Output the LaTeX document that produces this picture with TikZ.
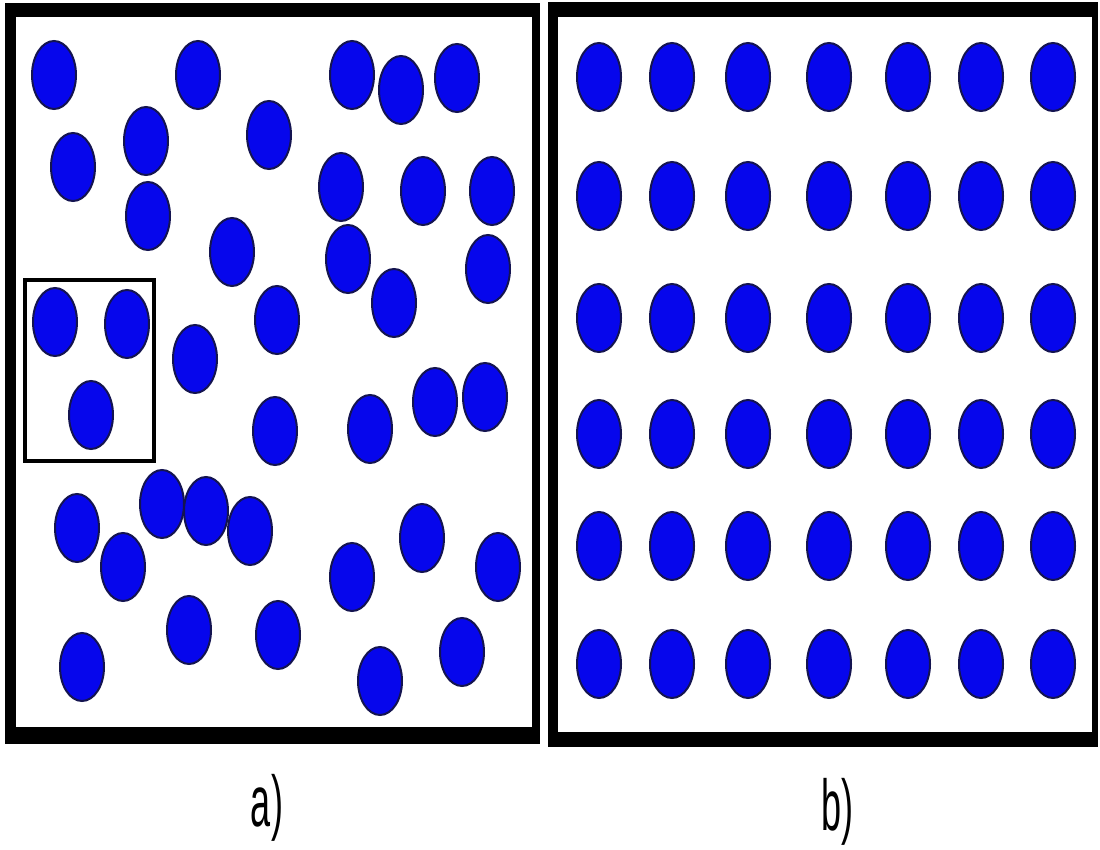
\documentclass[tikz,border=0pt]{standalone}
\usepackage{fontspec}
\setmainfont{Liberation Sans}
\definecolor{dotblue}{RGB}{6,6,236}
\definecolor{dotedge}{RGB}{20,20,80}
\tikzset{
  particle/.style={fill=dotblue, draw=dotedge, line width=2pt},
  framebar/.style={fill=black},
  inset/.style={draw=black, line width=4.5pt},
  panellabel/.style={anchor=base, inner sep=0pt, font=\fontsize{72}{80}\selectfont}
}
\begin{document}
\begin{tikzpicture}[x=1pt, y=-1pt]
\useasboundingbox (0,0) rectangle (1100,850);
\fill[white] (0,0) rectangle (1100,850);
% left frame
\fill[framebar] (5,3) rectangle (540,744);
\fill[white] (16,17) rectangle (532,727);
% right frame
\fill[framebar] (548,2) rectangle (1098,747);
\fill[white] (558,17) rectangle (1092,732);
% left panel particles
\foreach \x/\y in {54/75, 198/75, 352/75, 401/90, 457/78,
  73/167, 146/141, 269/135, 148/216, 341/187, 423/191, 492/191,
  232/252, 348/259, 488/269, 394/303,
  55/322, 127/324, 91/415,
  195/359, 277/320, 275/431, 370/429, 435/402, 485/397,
  77/528, 162/504, 206/511, 250/531, 123/567, 352/577, 422/538, 498/567,
  82/667, 189/630, 278/635, 380/681, 462/652}
  \path[particle] (\x,\y) ellipse (22pt and 34pt);
% inset box
\draw[inset] (25,280) rectangle (154,461);
% right panel grid
\foreach \x in {599,672,748,829,908,981,1053}
  \foreach \y in {77,196,318,434,546,664}
    \path[particle] (\x,\y) ellipse (22pt and 34pt);
% labels
\node[panellabel] (la) at (267,826) {\scalebox{0.5}[1]{a)}};
\node[panellabel] (lb) at (837,830) {\scalebox{0.5}[1]{b)}};
\end{tikzpicture}
\end{document}
